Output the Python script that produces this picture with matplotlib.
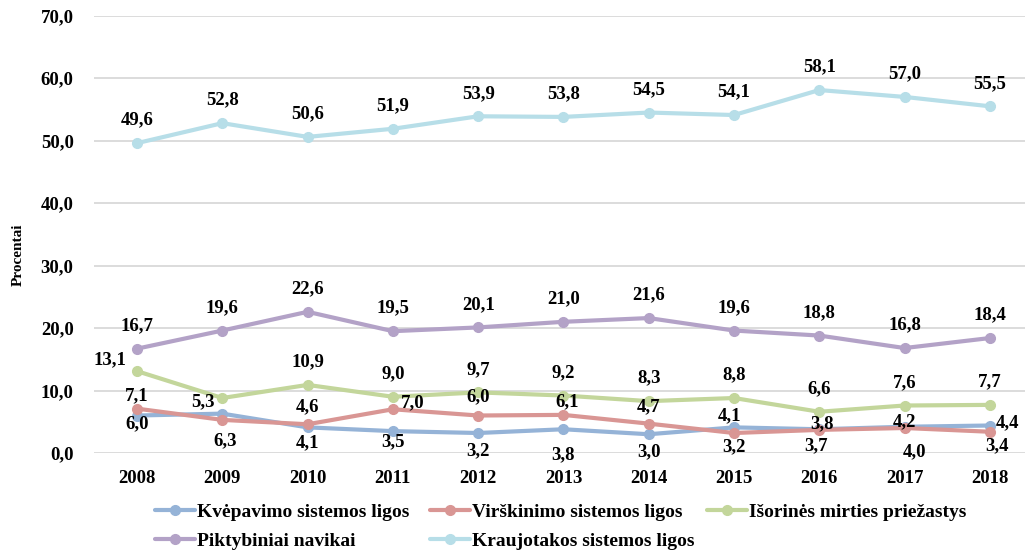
import matplotlib.pyplot as plt
from matplotlib.ticker import FuncFormatter

plt.rcParams['font.family'] = ['Liberation Serif', 'DejaVu Serif']
plt.rcParams['font.weight'] = 'bold'

# ===============================
# DATA
# ===============================
years = ["2008", "2009", "2010", "2011", "2012", "2013", "2014", "2015", "2016", "2017", "2018"]

kvepavimo = [6.0, 6.3, 4.1, 3.5, 3.2, 3.8, 3.0, 4.1, 3.8, 4.2, 4.4]
virskinimo = [7.1, 5.3, 4.6, 7.0, 6.0, 6.1, 4.7, 3.2, 3.7, 4.0, 3.4]
isorines = [13.1, 8.8, 10.9, 9.0, 9.7, 9.2, 8.3, 8.8, 6.6, 7.6, 7.7]
piktybiniai = [16.7, 19.6, 22.6, 19.5, 20.1, 21.0, 21.6, 19.6, 18.8, 16.8, 18.4]
kraujotakos = [49.6, 52.8, 50.6, 51.9, 53.9, 53.8, 54.5, 54.1, 58.1, 57.0, 55.5]

names = ["Kvėpavimo sistemos ligos", "Virškinimo sistemos ligos",
         "Išorinės mirties priežastys", "Piktybiniai navikai",
         "Kraujotakos sistemos ligos"]
series = [kvepavimo, virskinimo, isorines, piktybiniai, kraujotakos]
colors = ["#95B3D7", "#D99694", "#C3D69B", "#B3A2C7", "#B7DEE8"]

# label offsets in pixels (dx, dy up), None = no label
above = [(0, 23)] * 11
offsets = [
    [(0, -8), (3, -27), (0, -15), (0, -11), (0, -18), (0, -25), (0, -17), (-5, 12), (3, 6), (0, 5), (18, 3)],
    [(0, 13), (-19, 18), (0, 18), (20, 7), (0, 19), (4, 13), (0, 17), (0, -14), (-3, -16), (10, -24), (7, -14)],
    [(-27, 11), None] + [(0, 23)] * 9,
    above,
    above,
]


def fmt(v):
    return f"{v:.1f}".replace(".", ",")


fig = plt.figure(figsize=(10.25, 5.55), dpi=100)
ax = fig.add_axes([0.0921, 0.1838, 0.9152, 0.7879])

x = list(range(len(years)))
lines = []
for vals, name, c, offs in zip(series, names, colors, offsets):
    ln, = ax.plot(x, vals, color=c, lw=3.0, marker="o", ms=7, label=name,
                  solid_capstyle="round")
    lines.append(ln)
    for xi, v, o in zip(x, vals, offs):
        if o is None:
            continue
        ax.annotate(fmt(v), (xi, v), xytext=o, textcoords="offset pixels",
                    ha="center", va="center", fontsize=13.5,
                    fontweight="bold", color="black")

ax.set_xlim(-0.5, len(years) - 0.5)
ax.set_ylim(0, 70)
ax.set_yticks(range(0, 71, 10))
ax.yaxis.set_major_formatter(FuncFormatter(lambda v, p: fmt(v)))
ax.set_xticks(x)
ax.set_xticklabels(years)
ax.tick_params(axis="both", length=0, labelsize=13.5, colors="black")
ax.tick_params(axis="x", pad=12)
ax.tick_params(axis="y", pad=15)
for lbl in ax.get_xticklabels() + ax.get_yticklabels():
    lbl.set_fontweight("bold")

ax.grid(axis="y", color="#D9D9D9", lw=1.3)
ax.set_axisbelow(True)
for s in ax.spines.values():
    s.set_visible(False)

fig.text(18 / 1025, 1 - 255 / 555, "Procentai", rotation=90,
         ha="center", va="center", fontsize=11, fontweight="bold")

# legend: three columns placed like Excel
cols = [[0, 3], [1, 4], [2]]
col_x = [155, 430, 707]
for idx, cx in zip(cols, col_x):
    leg = fig.legend([lines[i] for i in idx], [names[i] for i in idx],
                     loc="upper left", bbox_to_anchor=(cx / 1025, 1 - 503 / 555),
                     frameon=False, fontsize=14, handlelength=2.05,
                     handletextpad=0.1, labelspacing=0.6, borderpad=0,
                     borderaxespad=0)

plt.savefig("out.png", dpi=100)
